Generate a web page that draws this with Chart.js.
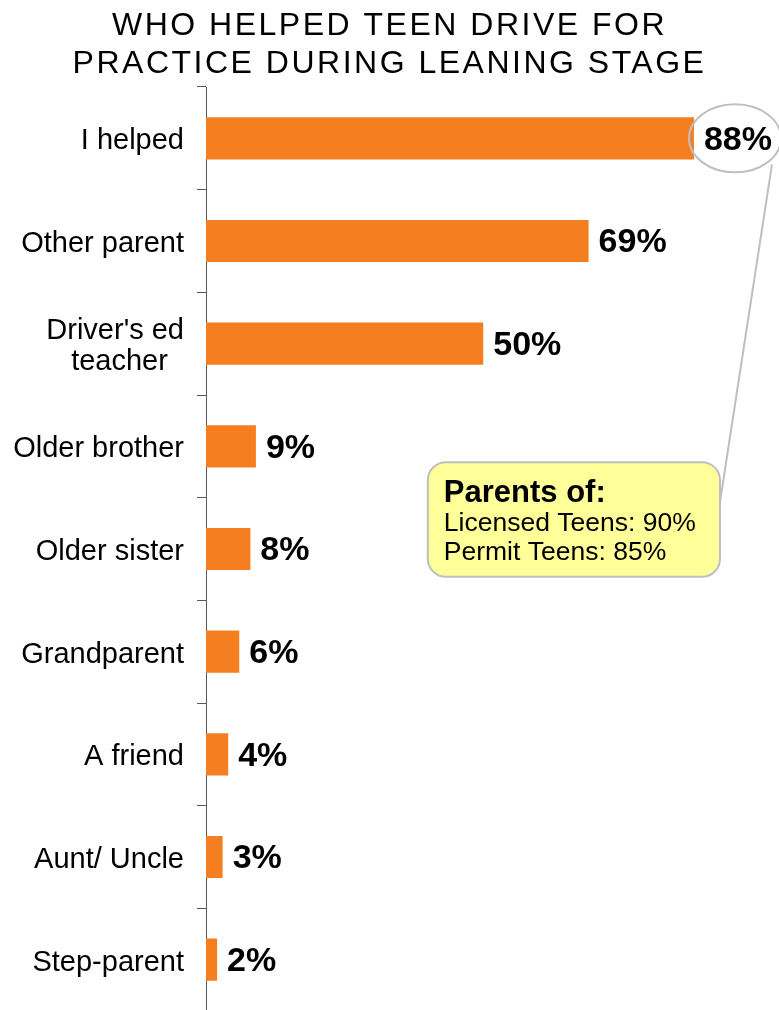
<!DOCTYPE html>
<html>
<head>
<meta charset="utf-8">
<script src="https://cdn.jsdelivr.net/npm/chart.js@4"></script>
<style>
  html, body { margin: 0; padding: 0; background: #fff; overflow: hidden; }
  .wrap { position: relative; width: 779px; height: 1014px; }
</style>
</head>
<body>
<div class="wrap"><canvas id="helpersChart"></canvas></div>
<script>
let titleLines = ['WHO HELPED TEEN DRIVE FOR', 'PRACTICE DURING LEANING STAGE'];

let helpers = ['I helped', 'Other parent', ["Driver's ed", 'teacher'], 'Older brother', 'Older sister', 'Grandparent', 'A friend', 'Aunt/ Uncle', 'Step-parent'];

let shares = [88, 69, 50, 9, 8, 6, 4, 3, 2]; // percent of parents naming each helper

let calloutTitle = 'Parents of:';
let calloutLines = ['Licensed Teens: 90%', 'Permit Teens: 85%'];

const orange = '#F57F20';
const axisGray = '#595959';
const calloutGray = '#BFBFBF';
const fontFamily = '"Liberation Sans", Arial, sans-serif';
const labelFont = '29px ' + fontFamily;

// pad the shorter lines of a wrapped label so the block reads centred
const measure = document.createElement('canvas').getContext('2d');
function centerLines(label) {
    if (!Array.isArray(label)) return label;
    measure.font = labelFont;
    const widths = label.map(l => measure.measureText(l).width);
    const widest = Math.max(...widths);
    const space = measure.measureText(' ').width;
    return label.map((l, i) => l + ' '.repeat(Math.floor((widest - widths[i]) / 2 / space)));
}

// spaced-out heading over the plot
const heading = {
    id: 'heading',
    beforeDraw(chart) {
        const ctx = chart.ctx;
        ctx.save();
        ctx.font = '32px ' + fontFamily;
        ctx.letterSpacing = '2.5px';
        ctx.fillStyle = '#000';
        ctx.textAlign = 'center';
        ctx.textBaseline = 'alphabetic';
        titleLines.forEach((line, i) => {
            ctx.fillText(line, chart.width / 2, 35 + i * 38);
        });
        ctx.restore();
    }
};

// percent labels at the end of each bar, plus the circled note on the first one
const valueLabels = {
    id: 'valueLabels',
    afterDatasetsDraw(chart) {
        const ctx = chart.ctx;
        const bars = chart.getDatasetMeta(0).data;
        ctx.save();
        ctx.font = 'bold 34px ' + fontFamily;
        ctx.fillStyle = '#000';
        ctx.textBaseline = 'middle';
        ctx.textAlign = 'left';
        bars.forEach((bar, i) => {
            ctx.fillText(shares[i] + '%', bar.x + 10, bar.y + 2);
        });

        // ellipse around the top label
        const first = bars[0];
        const w = ctx.measureText(shares[0] + '%').width;
        const cx = first.x + 10 + w / 2 - 3;
        const cy = first.y;
        ctx.strokeStyle = calloutGray;
        ctx.lineWidth = 2;
        ctx.beginPath();
        ctx.ellipse(cx, cy, 46, 34, 0, 0, Math.PI * 2);
        ctx.stroke();

        // note box
        const x = chart.scales.x, y = chart.scales.y;
        const step = y.getPixelForValue(1) - y.getPixelForValue(0);
        const left = x.getPixelForValue(40);
        const right = x.getPixelForValue(92.7);
        const top = y.getPixelForValue(3) + step * 0.155;
        const bottom = y.getPixelForValue(4) + step * 0.27;

        // connector from ellipse to box
        ctx.beginPath();
        ctx.moveTo(cx + 37, cy + 26);
        ctx.lineTo(right - 1, top + 46);
        ctx.stroke();

        ctx.beginPath();
        ctx.roundRect(left, top, right - left, bottom - top, 18);
        ctx.fillStyle = '#FFFF99';
        ctx.fill();
        ctx.strokeStyle = calloutGray;
        ctx.stroke();

        ctx.fillStyle = '#000';
        ctx.textBaseline = 'alphabetic';
        ctx.font = 'bold 31px ' + fontFamily;
        ctx.fillText(calloutTitle, left + 16, top + 40);
        ctx.font = '26.5px ' + fontFamily;
        calloutLines.forEach((line, i) => {
            ctx.fillText(line, left + 16, top + 69 + i * 29);
        });
        ctx.restore();
    }
};

const chart = document.getElementById('helpersChart').getContext('2d');
const helpersChart = new Chart(chart, {
    type: 'bar',
    data: {
        labels: helpers.map(centerLines),
        datasets: [{
            data: shares,
            backgroundColor: orange,
            barPercentage: 0.41,
            categoryPercentage: 1
        }]
    },
    options: {
        indexAxis: 'y',
        responsive: true,
        maintainAspectRatio: false,
        animation: false,
        layout: { padding: { top: 87, right: 18.5, bottom: 3 } },
        scales: {
            x: {
                display: false,
                min: 0,
                max: 100
            },
            y: {
                afterFit(scale) {
                    scale.width = 206;
                    scale.paddingTop = 0;
                    scale.paddingBottom = 0;
                },
                border: { display: true, color: axisGray, width: 1 },
                grid: {
                    offset: true,
                    drawOnChartArea: false,
                    drawTicks: true,
                    tickLength: 9,
                    color: axisGray
                },
                ticks: {
                    padding: 13,
                    labelOffset: 3,
                    color: '#000',
                    font: { family: fontFamily, size: 29, lineHeight: 1.08 }
                }
            }
        },
        plugins: {
            legend: { display: false },
            tooltip: { enabled: false },
            title: { display: false }
        }
    },
    plugins: [heading, valueLabels]
});
</script>
</body>
</html>
